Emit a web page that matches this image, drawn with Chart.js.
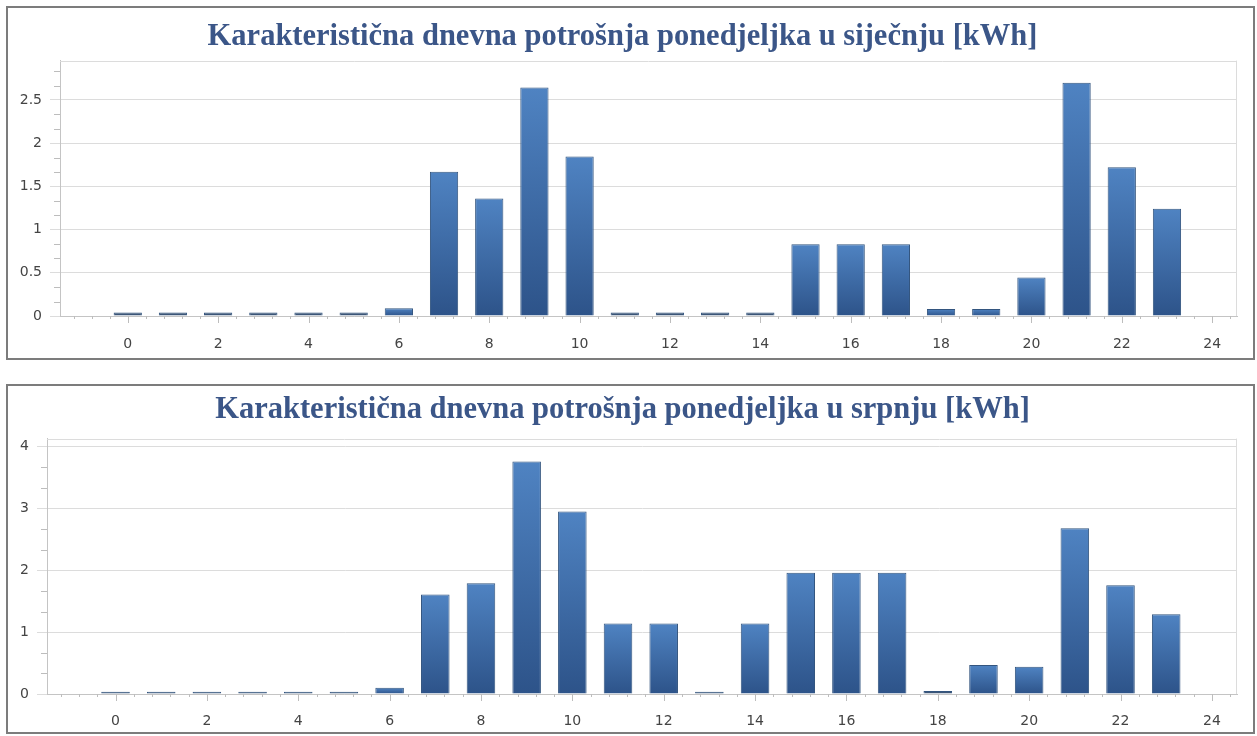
<!DOCTYPE html>
<html>
<head>
<meta charset="utf-8">
<title>Karakteristična dnevna potrošnja ponedjeljka</title>
<script src="https://cdn.jsdelivr.net/npm/chart.js@4/dist/chart.umd.min.js"></script>
<style>
  html, body { margin: 0; padding: 0; background: #ffffff; }
  body { width: 1257px; height: 736px; position: relative; overflow: hidden; }
  .box { position: absolute; border: 2px solid #7c7c7c; background: #ffffff; box-sizing: border-box; }
  #boxJan { left: 6px; top: 6px; width: 1249px; height: 354px; }
  #boxJul { left: 6px; top: 384px; width: 1249px; height: 350px; }
  canvas { position: absolute; left: 0; top: 0; }
</style>
</head>
<body>
<div class="box" id="boxJan"><canvas id="chartJan" width="1245" height="350"></canvas></div>
<div class="box" id="boxJul"><canvas id="chartJul" width="1245" height="346"></canvas></div>
<script>
// Hour of day for every bar
const hours = [0, 1, 2, 3, 4, 5, 6, 7, 8, 9, 10, 11, 12, 13, 14, 15, 16, 17, 18, 19, 20, 21, 22, 23];

// Typical Monday consumption per hour in January [kWh]
const januaryKWh = [0.04, 0.04, 0.04, 0.04, 0.04, 0.04, 0.09, 1.67, 1.36, 2.645, 1.845, 0.04,
                    0.04, 0.04, 0.04, 0.83, 0.83, 0.83, 0.08, 0.08, 0.445, 2.70, 1.72, 1.24];

// Typical Monday consumption per hour in July [kWh]
const julyKWh = [0.035, 0.035, 0.035, 0.035, 0.035, 0.035, 0.10, 1.61, 1.79, 3.76, 2.95, 1.14,
                 1.14, 0.035, 1.14, 1.96, 1.96, 1.96, 0.05, 0.47, 0.44, 2.68, 1.76, 1.29];

const titles = {
  january: 'Karakteristična dnevna potrošnja ponedjeljka u siječnju [kWh]',
  july: 'Karakteristična dnevna potrošnja ponedjeljka u srpnju [kWh]'
};

// Value-axis settings: max, major step
const januaryAxis = { max: 2.955, step: 0.5 };
const julyAxis = { max: 4.13, step: 1 };

// Hour-axis range
const hourAxis = { min: -1.5, max: 24.55, step: 2 };

const TICK_FONT = { family: 'DejaVu Sans', size: 14 };
const GRID_COLOR = '#dcdcdc';
const AXIS_COLOR = '#c4c4c4';
const TICK_COLOR = '#bdbdbd';

// Plot frame plus minor / major tick marks
const frameAndTicks = {
  id: 'frameAndTicks',
  beforeDatasetsDraw(chart) {
    const { ctx, chartArea: a } = chart;
    ctx.save();
    ctx.strokeStyle = GRID_COLOR;
    ctx.lineWidth = 1;
    ctx.beginPath();
    ctx.moveTo(a.left, Math.round(a.top) + 0.5);
    ctx.lineTo(a.right, Math.round(a.top) + 0.5);
    ctx.moveTo(Math.round(a.right) - 0.5, a.top);
    ctx.lineTo(Math.round(a.right) - 0.5, a.bottom);
    ctx.stroke();
    ctx.restore();
  },
  afterDraw(chart, args, opts) {
    const { ctx, chartArea: a, scales } = chart;
    const xs = scales.x, ys = scales.y;
    ctx.save();
    ctx.strokeStyle = TICK_COLOR;
    ctx.lineWidth = 1;
    ctx.beginPath();
    // hour axis: minor marks every 0.4 h, longer marks at even hours
    const kMin = Math.ceil(xs.min / 0.4), kMax = Math.floor(xs.max / 0.4);
    for (let k = kMin; k <= kMax; k++) {
      const px = Math.round(xs.getPixelForValue(k * 0.4)) + 0.5;
      const len = (k % 5 === 0) ? 7 : 3;
      ctx.moveTo(px, a.bottom);
      ctx.lineTo(px, a.bottom + len);
    }
    // value axis: two minor marks between major ones
    const step = opts.step / 3;
    const jMax = Math.floor(ys.max / step + 1e-6);
    for (let j = 1; j <= jMax; j++) {
      if (j % 3 === 0) continue;
      const py = Math.round(ys.getPixelForValue(j * step)) + 0.5;
      ctx.moveTo(a.left - 6, py);
      ctx.lineTo(a.left, py);
    }
    ctx.stroke();
    ctx.restore();
  }
};

// Vertical gradient for each bar, lighter at the top
function barFill(context) {
  const chart = context.chart;
  const ys = chart.scales && chart.scales.y;
  if (!chart.chartArea || !ys || context.type !== 'data') return '#3d68a3';
  const top = ys.getPixelForValue(context.parsed.y);
  const bottom = ys.getPixelForValue(0);
  if (bottom - top < 5) return '#3b5577';
  const g = chart.ctx.createLinearGradient(0, top, 0, bottom);
  g.addColorStop(0, '#4f83c2');
  g.addColorStop(1, '#2d5389');
  return g;
}

function makeChart(canvasId, title, values, axis, layout) {
  const points = hours.map((h, i) => ({ x: h, y: values[i] }));
  return new Chart(document.getElementById(canvasId), {
    type: 'bar',
    data: {
      datasets: [{
        data: points,
        backgroundColor: barFill,
        borderColor: '#33557f',
        borderWidth: 1,
        barPercentage: 0.625,
        categoryPercentage: 1
      }]
    },
    options: {
      responsive: false,
      animation: false,
      devicePixelRatio: 1,
      events: [],
      layout: { padding: { left: 0, right: layout.padRight, top: 0, bottom: 0 } },
      plugins: {
        legend: { display: false },
        tooltip: { enabled: false },
        title: {
          display: true,
          text: title,
          color: '#3b5688',
          font: { family: 'Liberation Serif', size: 30.5, weight: 'bold', lineHeight: 1.2 },
          padding: { top: layout.titleTop, bottom: layout.titleBottom }
        },
        frameAndTicks: { step: axis.step }
      },
      scales: {
        x: {
          type: 'linear',
          offset: false,
          min: hourAxis.min,
          max: hourAxis.max,
          afterFit(scale) { scale.height = layout.xHeight; },
          grid: { display: false, drawTicks: false, offset: false },
          border: { display: true, color: AXIS_COLOR },
          ticks: {
            stepSize: hourAxis.step,
            includeBounds: false,
            padding: layout.xPad,
            color: '#444444',
            font: TICK_FONT,
            maxRotation: 0,
            autoSkip: false,
            callback: (v) => String(v)
          }
        },
        y: {
          type: 'linear',
          min: 0,
          max: axis.max,
          afterFit(scale) { scale.width = layout.yWidth; },
          grid: { color: GRID_COLOR, drawTicks: true, tickLength: 10, tickColor: GRID_COLOR },
          border: { display: true, color: AXIS_COLOR },
          ticks: {
            stepSize: axis.step,
            includeBounds: false,
            padding: 8,
            color: '#444444',
            font: TICK_FONT,
            callback: (v) => String(Math.round(v * 10) / 10)
          }
        }
      }
    },
    plugins: [frameAndTicks]
  });
}

makeChart('chartJan', titles.january, januaryKWh, januaryAxis,
  { padRight: 16, yWidth: 52, xHeight: 42, xPad: 20, titleTop: 11, titleBottom: 5 });
makeChart('chartJul', titles.july, julyKWh, julyAxis,
  { padRight: 16, yWidth: 39, xHeight: 38, xPad: 19, titleTop: 6, titleBottom: 10 });
</script>
</body>
</html>
